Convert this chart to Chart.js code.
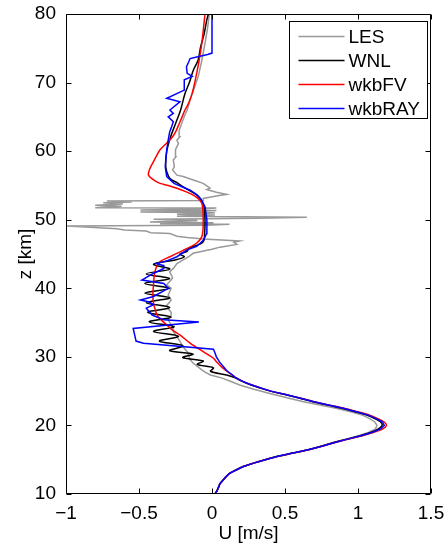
<!DOCTYPE html>
<html><head><meta charset="utf-8">
<script src="https://cdn.jsdelivr.net/npm/chart.js@4/dist/chart.umd.min.js"></script>
<style>html,body{margin:0;padding:0;background:#fff;overflow:hidden}#wrap{width:444px;height:548px;position:relative}</style>
</head><body><div id="wrap"><canvas id="c" width="444" height="548"></canvas></div>
<script>
// ---- data ----
const seriesNames = ['LES', 'WNL', 'wkbFV', 'wkbRAY'];
const xTicks = [-1, -0.5, 0, 0.5, 1, 1.5];
const yTicks = [10, 20, 30, 40, 50, 60, 70, 80];

const zLES = [10,10.5,11,11.5,12,12.5,13,13.5,14,14.5,15,15.5,16,16.5,17,17.5,18,18.5,19,19.5,20,20.5,21,21.5,22,22.5,23,23.5,24,24.7,25.3,25.9,26.4,26.9,27.35,27.8,28.1,28.6,29.1,29.6,30.2,30.75,31.5,32.3,33.2,33.7,34.5,35,35.5,36,36.5,37,37.5,38,38.3,39,39.5,40,40.5,41,41.5,42,42.4,42.9,43.6,44.1,44.6,45.1,45.7,46,46.4,46.7,46.9,47.2,47.4,47.6,48,48.1,48.35,48.5,48.69,49.08,49.2,49.33,49.4,49.55,49.67,49.9,50.06,50.2,50.35,50.5,50.7,50.79,50.9,51,51.13,51.2,51.35,51.42,51.55,51.7,51.76,51.95,52.1,52.3,52.49,52.6,52.73,52.8,53.1,53.45,53.7,54,54.4,54.6,55.3,55.8,56.3,56.5,57.25,57.7,58.7,59.2,60.2,61.1,61.6,62.1,63,63.6,64.5,65.3,66,67.5,69,70.9,73,75.7,78,80];
const uLES = [0.02,0.035,0.045,0.055,0.075,0.095,0.12,0.165,0.215,0.285,0.365,0.45,0.555,0.66,0.75,0.83,0.915,1.005,1.075,1.12,1.13,1.115,1.08,1.03,0.95,0.85,0.73,0.62,0.52,0.39,0.28,0.19,0.13,0.07,-0.01,-0.05,-0.07,-0.10,-0.13,-0.15,-0.16,-0.17,-0.20,-0.22,-0.25,-0.265,-0.27,-0.29,-0.30,-0.28,-0.28,-0.30,-0.31,-0.29,-0.28,-0.30,-0.29,-0.28,-0.31,-0.29,-0.27,-0.28,-0.29,-0.265,-0.24,-0.20,-0.16,-0.13,0.0,0.055,0.17,0.15,0.19,-0.06,-0.17,-0.24,-0.288,-0.42,-0.45,-0.60,-0.65,-0.995,-0.04,0.12,-0.356,0.01,-0.425,-0.10,-0.40,0.30,0.65,-0.24,0.02,-0.24,-0.05,0.02,-0.49,-0.10,0.03,-0.49,-0.10,0.03,-0.80,-0.62,-0.80,-0.61,-0.745,-0.55,-0.72,-0.06,-0.06,0.03,0.10,0.03,-0.036,-0.014,-0.06,-0.128,-0.197,-0.24,-0.27,-0.258,-0.265,-0.247,-0.25,-0.23,-0.24,-0.22,-0.225,-0.215,-0.20,-0.185,-0.17,-0.15,-0.125,-0.094,-0.072,-0.048,-0.03,-0.018];

const zWNL = [10,10.5,11,11.5,12,12.5,13,13.5,14,14.5,15,15.5,16,16.5,17,17.5,18,18.5,19,19.5,20,20.5,21,21.5,22,22.5,23,23.5,24,24.5,25,25.5,26,26.5,27,27.35,27.9,28.4,28.9,29.4,29.9,30.4,30.9,31.6,32.3,33,33.7,34.4,35.1,35.8,36.5,37.2,37.9,38.6,39.3,40,40.7,41.4,42.1,42.8,43.5,44.2,44.6,45,45.4,45.8,46.3,46.6,47,48,50,52,52.9,53.6,54.2,54.8,55.4,56,57,58,60,62,64,66,68.4,70,71.8,73.3,75.2,77,79.1,80];
const uWNL = [0.02,0.035,0.045,0.055,0.075,0.095,0.12,0.165,0.215,0.285,0.365,0.45,0.56,0.665,0.755,0.835,0.925,1.015,1.09,1.14,1.165,1.155,1.115,1.06,0.98,0.89,0.785,0.685,0.595,0.50,0.40,0.325,0.255,0.20,0.155,0.10,-0.01,0.01,-0.10,-0.06,-0.20,-0.13,-0.29,-0.20,-0.36,-0.23,-0.40,-0.26,-0.43,-0.28,-0.44,-0.29,-0.45,-0.29,-0.46,-0.29,-0.46,-0.29,-0.45,-0.29,-0.40,-0.24,-0.19,-0.22,-0.17,-0.16,-0.10,-0.07,-0.055,-0.05,-0.048,-0.055,-0.075,-0.105,-0.15,-0.197,-0.24,-0.288,-0.31,-0.318,-0.31,-0.285,-0.25,-0.215,-0.185,-0.155,-0.128,-0.095,-0.078,-0.055,-0.036,-0.025];

const zFV = [10,10.5,11,11.5,12,12.5,13,13.5,14,14.5,15,15.5,16,16.5,17,17.5,18,18.5,19,19.5,20,20.5,21,21.5,22,22.5,23,23.5,24,24.5,25,25.5,26,26.5,27,27.35,28.3,29.3,29.8,30.75,32,33.2,33.9,34.65,35.9,36.6,37.8,39,40.7,42,43.15,43.9,44.6,45.2,45.8,46.6,47.5,48.5,50,51.5,52.4,53,53.6,54.1,54.6,55,55.3,55.8,56.5,57.2,57.7,58.5,59.3,60.2,61.2,62.1,63,64,65,66,67,68.5,70,71.35,73,75.7,78,80];
const uFV = [0.02,0.035,0.045,0.055,0.075,0.095,0.12,0.165,0.215,0.285,0.365,0.455,0.565,0.67,0.76,0.845,0.935,1.03,1.11,1.17,1.195,1.18,1.135,1.08,0.995,0.905,0.795,0.695,0.605,0.505,0.405,0.33,0.26,0.205,0.16,0.14,0.077,0.03,0.01,-0.06,-0.15,-0.22,-0.27,-0.31,-0.37,-0.385,-0.40,-0.405,-0.40,-0.395,-0.38,-0.356,-0.288,-0.23,-0.17,-0.105,-0.07,-0.062,-0.06,-0.063,-0.07,-0.09,-0.128,-0.18,-0.24,-0.30,-0.356,-0.40,-0.435,-0.43,-0.42,-0.40,-0.38,-0.356,-0.31,-0.27,-0.245,-0.225,-0.205,-0.185,-0.16,-0.135,-0.118,-0.105,-0.09,-0.07,-0.058,-0.048];

const zRAY = [10,10.5,11,11.5,12,12.5,13,13.5,14,14.5,15,15.5,16,16.5,17,17.5,18,18.5,19,19.5,20,20.5,21,21.5,22,22.5,23,23.5,24,24.5,25,25.5,26,26.5,27,27.35,28,28.6,29.3,30,30.6,31.1,32,32.3,34.15,35.1,35.4,36.1,37.1,37.6,38,38.3,38.8,40,40.7,41.2,42.2,42.9,43.3,43.6,44,44.6,45.6,46.1,47,48,50,51.9,53,53.6,54.3,55.3,56.3,57.7,60.2,61.6,62.8,63.6,64.3,65,65.5,66,67.2,67.7,68.9,70.4,70.9,71.35,72.3,73,73.5,73.8,74.1,74.3,80];
const uRAY = [0.02,0.035,0.045,0.055,0.075,0.095,0.12,0.165,0.215,0.285,0.365,0.452,0.562,0.668,0.758,0.84,0.93,1.022,1.10,1.155,1.18,1.168,1.125,1.07,0.988,0.898,0.79,0.69,0.60,0.503,0.403,0.328,0.258,0.203,0.158,0.14,0.10,0.077,0.05,0.03,0.02,0.01,-0.47,-0.52,-0.54,-0.09,-0.33,-0.41,-0.45,-0.40,-0.43,-0.49,-0.40,-0.30,-0.33,-0.48,-0.40,-0.33,-0.33,-0.38,-0.31,-0.24,-0.17,-0.105,-0.06,-0.036,-0.035,-0.048,-0.075,-0.10,-0.15,-0.26,-0.31,-0.32,-0.31,-0.30,-0.29,-0.276,-0.265,-0.30,-0.265,-0.288,-0.22,-0.31,-0.19,-0.19,-0.135,-0.17,-0.175,-0.16,-0.15,-0.09,-0.03,0.0,0.0];

const seriesColors = ['#999999', '#000000', '#ff0000', '#0000ff'];

// ---- chart ----
const FONT = 'Liberation Sans, Arial, Helvetica, sans-serif';
Chart.defaults.color = '#000';
Chart.defaults.font.family = FONT;

function pts(zs, us) { return zs.map((z, i) => ({ x: us[i], y: z })); }

const seriesZ = [zLES, zWNL, zFV, zRAY];
const seriesU = [uLES, uWNL, uFV, uRAY];
const tensions = [0, 0.35, 0.3, 0];
const orders = [3, 2, 1, 0];

const datasets = seriesNames.map((n, i) => ({
  label: n,
  data: pts(seriesZ[i], seriesU[i]),
  showLine: true,
  borderColor: seriesColors[i],
  backgroundColor: seriesColors[i],
  borderWidth: 1.5,
  pointRadius: 0,
  pointHoverRadius: 0,
  tension: tensions[i],
  fill: false,
  order: orders[i]
}));

const fmt = v => (v < 0 ? '\u2212' : '') + String(Math.abs(v));

const framePlugin = {
  id: 'frame',
  afterDatasetsDraw(chart) {
    const { ctx, chartArea: a, scales: { x, y } } = chart;
    const L = Math.round(a.left) + 0.5, R = Math.round(a.right) - 0.5;
    const T = Math.round(a.top) + 0.5, B = Math.round(a.bottom) - 0.5;
    ctx.save();
    ctx.strokeStyle = '#000';
    ctx.lineWidth = 1;
    ctx.beginPath();
    ctx.moveTo(L, T); ctx.lineTo(R, T); ctx.lineTo(R, B); ctx.lineTo(L, B); ctx.closePath();
    const tl = 5;
    x.ticks.forEach(t => {
      const px = Math.round(x.getPixelForValue(t.value)) + 0.5;
      ctx.moveTo(px, B); ctx.lineTo(px, B - tl);
      ctx.moveTo(px, T); ctx.lineTo(px, T + tl);
    });
    y.ticks.forEach(t => {
      const py = Math.round(y.getPixelForValue(t.value)) + 0.5;
      ctx.moveTo(L, py); ctx.lineTo(L + tl, py);
      ctx.moveTo(R, py); ctx.lineTo(R - tl, py);
    });
    ctx.stroke();

    // legend box (inside plot, upper right)
    const bx = Math.round(a.right) - 141.5, by = Math.round(a.top) + 7.5, bw = 138, bh = 97;
    ctx.fillStyle = '#fff';
    ctx.fillRect(bx, by, bw, bh);
    ctx.strokeRect(bx, by, bw, bh);
    ctx.font = '19px ' + FONT;
    ctx.textBaseline = 'middle';
    ctx.textAlign = 'left';
    const rows = [14, 38.5, 62, 86];
    chart.data.datasets.forEach((ds, i) => {
      const cy = Math.round(by + rows[i]) + 0.5;
      ctx.strokeStyle = ds.borderColor;
      ctx.lineWidth = 1.5;
      ctx.beginPath();
      ctx.moveTo(bx + 9, cy); ctx.lineTo(bx + 55, cy);
      ctx.stroke();
      ctx.fillStyle = '#000';
      ctx.fillText(ds.label, bx + 59, cy + 1);
    });
    ctx.restore();
  }
};

new Chart(document.getElementById('c'), {
  type: 'scatter',
  data: { datasets },
  options: {
    responsive: false,
    animation: false,
    devicePixelRatio: 1,
    layout: { padding: { top: 14, right: 13, left: 0, bottom: 0 } },
    plugins: { legend: { display: false }, tooltip: { enabled: false } },
    scales: {
      x: {
        type: 'linear', min: -1, max: 1.5,
        afterBuildTicks: s => { s.ticks = xTicks.map(v => ({ value: v })); },
        afterFit: s => { s.height = 54; s.paddingLeft = 0; s.paddingRight = 0; },
        grid: { display: false },
        border: { display: false },
        ticks: { padding: 0, maxRotation: 0, autoSkip: false, font: { size: 19 }, callback: v => fmt(v) },
        title: { display: true, text: 'U [m/s]', font: { size: 19 }, padding: { top: 0, bottom: 3 } }
      },
      y: {
        type: 'linear', min: 10, max: 80,
        afterBuildTicks: s => { s.ticks = yTicks.map(v => ({ value: v })); },
        afterFit: s => { s.width = 66; s.paddingTop = 0; s.paddingBottom = 0; },
        grid: { display: false },
        border: { display: false },
        ticks: { padding: 2, autoSkip: false, font: { size: 19 }, callback: v => fmt(v) },
        title: { display: true, text: 'z [km]', font: { size: 19 }, padding: { top: 14, bottom: 0 } }
      }
    }
  },
  plugins: [framePlugin]
});
</script>
</body></html>
